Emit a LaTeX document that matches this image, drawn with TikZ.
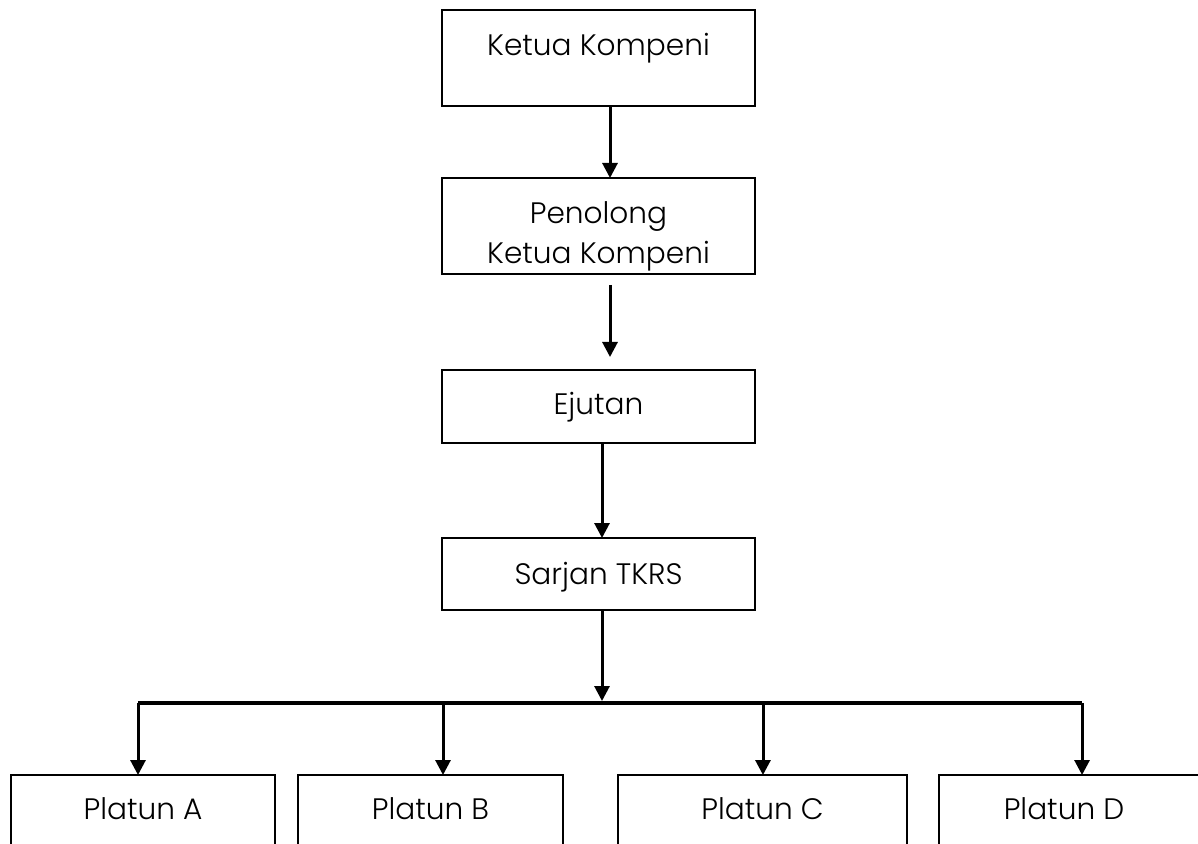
\documentclass[tikz,border=0pt]{standalone}
\usepackage{fontspec}
\setmainfont{Poppins}[UprightFont=* Light]
\usetikzlibrary{arrows.meta}
\tikzset{>={Triangle[width=7.5pt,length=7.5pt]}}

\begin{document}
\begin{tikzpicture}[x=0.5pt, y=-0.5pt,
    box/.style={draw, line width=0.8pt, inner sep=0pt, outer sep=0pt},
    lbl/.style={anchor=base, font=\fontsize{14.8}{20}\selectfont, align=center},
    link/.style={->, line width=1.5pt},
    bus/.style={line width=2pt}]

  \useasboundingbox (0,0) rectangle (1198,844);
  \clip (0,0) rectangle (1198,844);

  \newcommand\Px{0.5pt};

  % chain of command
  \node[box, minimum width=313*\Px, minimum height=96*\Px] (kk)  at (598.5,58)  {};
  \node[box, minimum width=313*\Px, minimum height=96*\Px] (pkk) at (598.5,226) {};
  \node[box, minimum width=313*\Px, minimum height=73*\Px] (ej)  at (598.5,406.5) {};
  \node[box, minimum width=313*\Px, minimum height=72*\Px] (sj)  at (598.5,574) {};

  \node[lbl] (kkT) at (598.5,56) {Ketua Kompeni};
  \node[lbl, anchor=center] (pkkT) at (598.5,236) {Penolong\\Ketua Kompeni};
  \node[lbl] (ejT) at (598.5,414) {Ejutan};
  \node[lbl] (sjT) at (598.5,584) {Sarjan TKRS};

  % platoons
  \node[box, minimum width=264*\Px, minimum height=110*\Px] (pA) at (143,830)   {};
  \node[box, minimum width=265*\Px, minimum height=110*\Px] (pB) at (430.5,830) {};
  \node[box, minimum width=289*\Px, minimum height=110*\Px] (pC) at (762.5,830) {};
  \node[box, minimum width=276*\Px, minimum height=110*\Px] (pD) at (1077,830)  {};

  \node[lbl] (pAT) at (143,819)   {Platun A};
  \node[lbl] (pBT) at (430.5,819) {Platun B};
  \node[lbl] (pCT) at (762.5,819) {Platun C};
  \node[lbl] (pDT) at (1064,819)  {Platun D};

  \draw[link] ([xshift=11.5*\Px]kk.south) -- ([xshift=11.5*\Px]pkk.north); % KK->PKK
  \draw[link, shorten <=5.5pt, shorten >=6.5pt] ([xshift=11.5*\Px]pkk.south) -- ([xshift=11.5*\Px]ej.north); % PKK->EJ
  \draw[link] ([xshift=3.5*\Px]ej.south) -- ([xshift=3.5*\Px]sj.north); % EJ->SJ

  % bus to the platoons
  \coordinate (bA) at (138,703);
  \coordinate (bB) at (443,703);
  \coordinate (bS) at (602,703);
  \coordinate (bC) at (763,703);
  \coordinate (bD) at (1082,703);
  \draw[bus] (bA) -- (bD);
  \draw[link, shorten >=1pt] ([xshift=3.5*\Px]sj.south) -- (bS); % SJ->bus

  \draw[link] (bA) -- (bA |- pA.north); % bus->A
  \draw[link] (bB) -- (bB |- pB.north); % bus->B
  \draw[link] (bC) -- (bC |- pC.north); % bus->C
  \draw[link] (bD) -- (bD |- pD.north); % bus->D

\end{tikzpicture}
\end{document}
